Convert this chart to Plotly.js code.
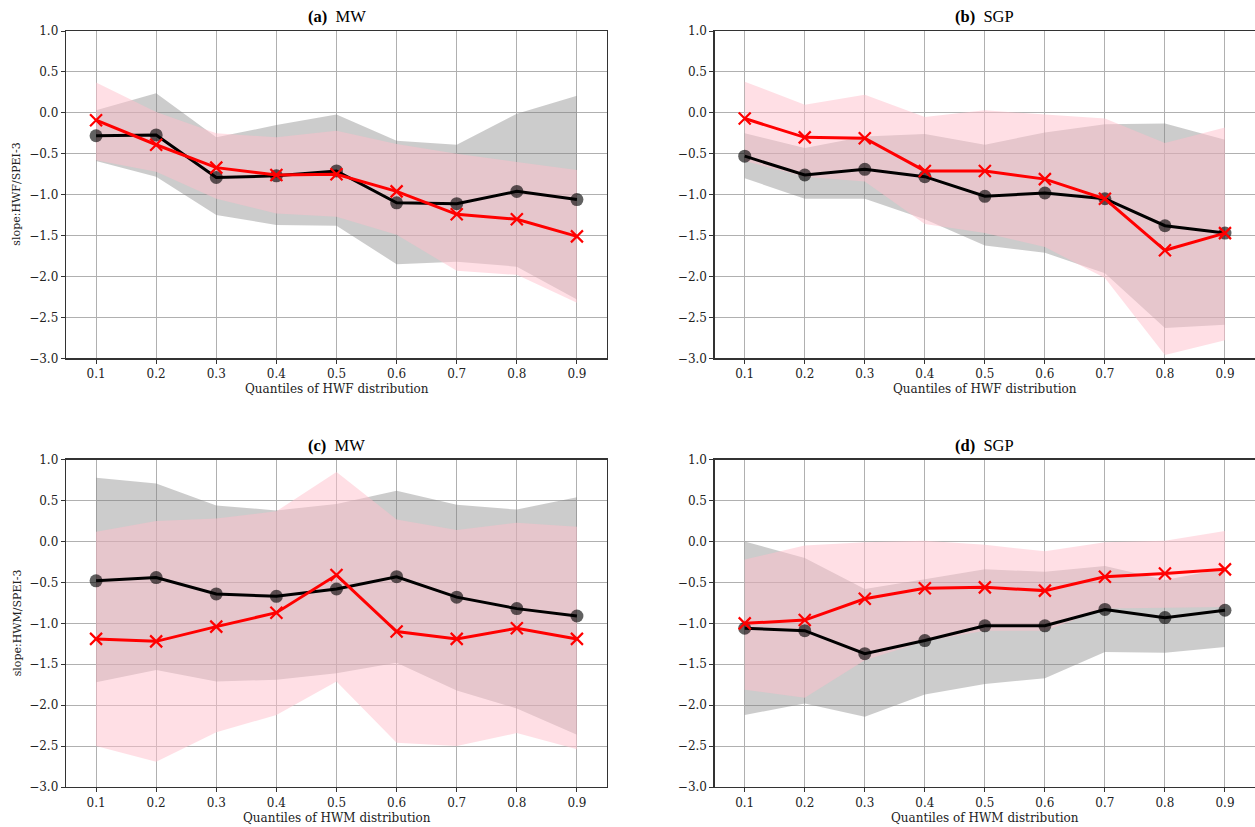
<!DOCTYPE html>
<html>
<head>
<meta charset="utf-8">
<script src="https://cdn.plot.ly/plotly-3.0.1.min.js"></script>
<style>html,body{margin:0;padding:0;background:#fff;}</style>
</head>
<body>
<div id="chart" style="width:1255px;height:827px;"></div>
<script>
// ---------- data ----------
const quantiles = [0.1, 0.2, 0.3, 0.4, 0.5, 0.6, 0.7, 0.8, 0.9];
const xTickLabels = ["0.1", "0.2", "0.3", "0.4", "0.5", "0.6", "0.7", "0.8", "0.9"];

// (a) MW, HWF
const blackA  = [-0.28, -0.27, -0.79, -0.77, -0.71, -1.10, -1.11, -0.96, -1.06];
const redA    = [-0.09, -0.39, -0.67, -0.76, -0.75, -0.96, -1.24, -1.30, -1.51];
const grayUpA = [0.03, 0.24, -0.30, -0.15, -0.02, -0.34, -0.39, -0.01, 0.21];
const grayLoA = [-0.59, -0.78, -1.25, -1.37, -1.38, -1.85, -1.82, -1.88, -2.28];
const pinkUpA = [0.37, 0.01, -0.25, -0.30, -0.22, -0.38, -0.50, -0.60, -0.70];
const pinkLoA = [-0.58, -0.72, -1.05, -1.23, -1.27, -1.49, -1.93, -1.98, -2.32];

// (b) SGP, HWF
const blackB  = [-0.53, -0.76, -0.69, -0.78, -1.02, -0.98, -1.05, -1.38, -1.47];
const redB    = [-0.07, -0.30, -0.31, -0.71, -0.71, -0.81, -1.05, -1.68, -1.47];
const grayUpB = [-0.25, -0.43, -0.29, -0.26, -0.39, -0.24, -0.14, -0.13, -0.33];
const grayLoB = [-0.80, -1.05, -1.05, -1.30, -1.62, -1.71, -1.96, -2.63, -2.59];
const pinkUpB = [0.38, 0.10, 0.22, -0.05, 0.03, -0.02, -0.07, -0.37, -0.18];
const pinkLoB = [-0.59, -0.78, -0.84, -1.36, -1.47, -1.64, -2.02, -2.96, -2.78];

// (c) MW, HWM
const blackC  = [-0.48, -0.44, -0.64, -0.67, -0.58, -0.43, -0.68, -0.82, -0.91];
const redC    = [-1.19, -1.22, -1.04, -0.87, -0.41, -1.10, -1.19, -1.06, -1.19];
const grayUpC = [0.78, 0.71, 0.44, 0.38, 0.46, 0.62, 0.45, 0.39, 0.54];
const grayLoC = [-1.72, -1.57, -1.71, -1.69, -1.61, -1.48, -1.82, -2.04, -2.36];
const pinkUpC = [0.12, 0.25, 0.28, 0.37, 0.85, 0.27, 0.14, 0.23, 0.18];
const pinkLoC = [-2.50, -2.69, -2.33, -2.12, -1.71, -2.46, -2.50, -2.34, -2.54];

// (d) SGP, HWM
const blackD  = [-1.06, -1.09, -1.37, -1.21, -1.03, -1.03, -0.83, -0.93, -0.84];
const redD    = [-1.00, -0.96, -0.70, -0.57, -0.56, -0.60, -0.43, -0.39, -0.34];
const grayUpD = [0.00, -0.20, -0.58, -0.46, -0.34, -0.37, -0.30, -0.47, -0.33];
const grayLoD = [-2.12, -1.98, -2.14, -1.87, -1.74, -1.67, -1.35, -1.36, -1.29];
const pinkUpD = [-0.22, -0.05, -0.01, 0.01, -0.04, -0.12, -0.01, 0.01, 0.13];
const pinkLoD = [-1.81, -1.91, -1.45, -1.22, -1.09, -1.09, -0.82, -0.81, -0.80];

const panelLetters = ["(a)", "(b)", "(c)", "(d)"];
const panelRegions = ["MW", "SGP", "MW", "SGP"];
const xLabels = ["Quantiles of HWF distribution", "Quantiles of HWF distribution",
                 "Quantiles of HWM distribution", "Quantiles of HWM distribution"];
const yLabels = ["slope:HWF/SPEI-3", "", "slope:HWM/SPEI-3", ""];

// ---------- layout geometry (pixels) ----------
const W = 1255, H = 827;
const panels = [
  {x0: 66,  x1: 607,  y0: 31,    y1: 358.3, black: blackA, red: redA, gu: grayUpA, gl: grayLoA, pu: pinkUpA, pl: pinkLoA, mirrorY: true},
  {x0: 714.7, x1: 1255, y0: 31,  y1: 358.3, black: blackB, red: redB, gu: grayUpB, gl: grayLoB, pu: pinkUpB, pl: pinkLoB, mirrorY: false},
  {x0: 66,  x1: 607,  y0: 459.7, y1: 787,   black: blackC, red: redC, gu: grayUpC, gl: grayLoC, pu: pinkUpC, pl: pinkLoC, mirrorY: true},
  {x0: 714.7, x1: 1255, y0: 459.7, y1: 787, black: blackD, red: redD, gu: grayUpD, gl: grayLoD, pu: pinkUpD, pl: pinkLoD, mirrorY: false}
];

const tickFont = {family: "DejaVu Serif", size: 12, color: "#222222"};
const traces = [];
const layout = {
  width: W, height: H,
  margin: {l: 0, r: 0, t: 0, b: 0},
  paper_bgcolor: "#ffffff", plot_bgcolor: "#ffffff",
  showlegend: false,
  annotations: []
};

function band(xs, up, lo) {
  return {x: xs.concat(xs.slice().reverse()), y: up.concat(lo.slice().reverse())};
}

panels.forEach((p, i) => {
  const n = i + 1;
  const xa = "x" + (n === 1 ? "" : n), ya = "y" + (n === 1 ? "" : n);
  const gb = band(quantiles, p.gu, p.gl);
  const pb = band(quantiles, p.pu, p.pl);
  traces.push({type: "scatter", mode: "none", x: gb.x, y: gb.y, fill: "toself",
               fillcolor: "rgba(128,128,128,0.4)", xaxis: xa, yaxis: ya, hoverinfo: "skip"});
  traces.push({type: "scatter", mode: "none", x: pb.x, y: pb.y, fill: "toself",
               fillcolor: "rgba(255,192,203,0.5)", xaxis: xa, yaxis: ya, hoverinfo: "skip"});
  traces.push({type: "scatter", mode: "lines+markers", x: quantiles, y: p.black,
               line: {color: "#000000", width: 3},
               marker: {symbol: "circle", size: 13, color: "rgba(0,0,0,0.62)"},
               xaxis: xa, yaxis: ya});
  traces.push({type: "scatter", mode: "lines+markers", x: quantiles, y: p.red,
               line: {color: "#ff0000", width: 3},
               marker: {symbol: "x-thin", size: 12, line: {color: "#ff0000", width: 2.2}},
               xaxis: xa, yaxis: ya});

  const axCommon = {
    showgrid: true, gridcolor: "#b0b0b0", gridwidth: 1,
    showline: true, linecolor: "#333333", linewidth: 1.3,
    ticks: "outside", ticklen: 4, tickcolor: "#333333", tickwidth: 1,
    tickfont: tickFont, zeroline: false, fixedrange: true
  };
  layout["xaxis" + (n === 1 ? "" : n)] = Object.assign({}, axCommon, {
    domain: [p.x0 / W, p.x1 / W], range: [0.05, 0.95],
    tickmode: "array", tickvals: quantiles, ticktext: xTickLabels,
    anchor: ya, mirror: true
  });
  layout["yaxis" + (n === 1 ? "" : n)] = Object.assign({}, axCommon, {
    domain: [1 - p.y1 / H, 1 - p.y0 / H], range: [-3, 1],
    tickmode: "linear", tick0: -3, dtick: 0.5, tickformat: ".1f",
    anchor: xa, mirror: p.mirrorY
  });

  const cx = (p.x0 + p.x1) / 2;
  layout.annotations.push({
    xref: "paper", yref: "paper", x: cx / W, y: 1 - (p.y0 - 14.5) / H,
    xanchor: "center", yanchor: "middle", showarrow: false,
    text: "<b>" + panelLetters[i] + "</b>&nbsp; " + panelRegions[i],
    font: {family: "Liberation Serif", size: 16.5, color: "#000000"}
  });
  layout.annotations.push({
    xref: "paper", yref: "paper", x: cx / W, y: 1 - (p.y1 + 31) / H,
    xanchor: "center", yanchor: "middle", showarrow: false,
    text: xLabels[i],
    font: {family: "DejaVu Serif", size: 12, color: "#222222"}
  });
  if (yLabels[i]) {
    layout.annotations.push({
      xref: "paper", yref: "paper", x: 17 / W, y: 1 - ((p.y0 + p.y1) / 2) / H,
      xanchor: "center", yanchor: "middle", showarrow: false, textangle: -90,
      text: yLabels[i],
      font: {family: "DejaVu Serif", size: 11, color: "#222222"}
    });
  }
});

Plotly.newPlot("chart", traces, layout, {staticPlot: true, displayModeBar: false});
</script>
</body>
</html>
